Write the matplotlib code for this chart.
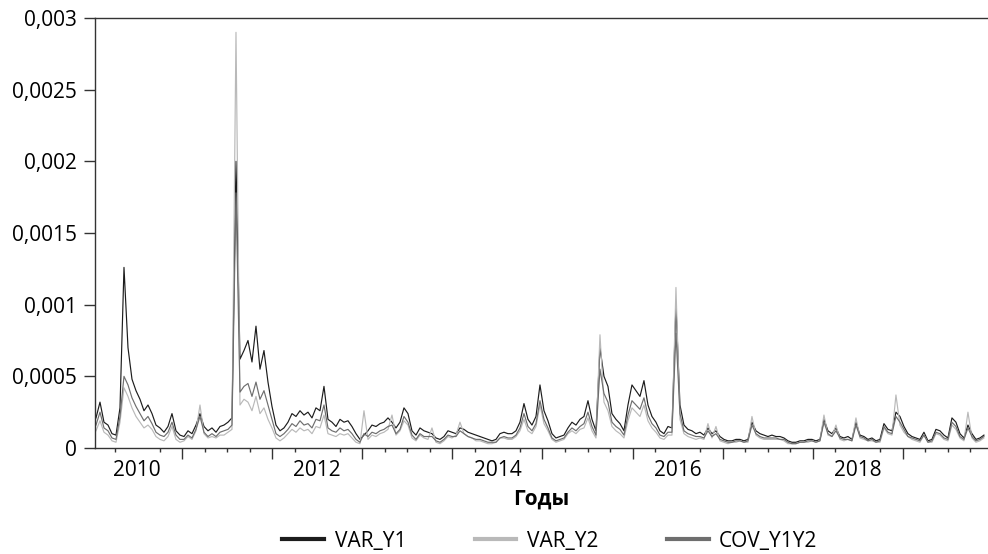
import numpy as np
import matplotlib
matplotlib.use("Agg")
import matplotlib.pyplot as plt
from matplotlib.ticker import FixedLocator, FuncFormatter

plt.rcParams['font.family'] = ['Open Sans', 'DejaVu Sans']

# Observation span (fractional years) of the daily series, sampled evenly
first_obs = 2010.044
last_obs = 2019.90

# Values in units of 1e-4
var_y1 = [
    2.1, 3.2, 1.8, 1.6, 1.0, 0.9, 2.8, 12.6, 7.0, 4.8,
    4.0, 3.4, 2.6, 3.0, 2.4, 1.6, 1.4, 1.1, 1.5, 2.4,
    1.2, 0.9, 0.8, 1.2, 1.0, 1.6, 2.4, 1.5, 1.2, 1.4,
    1.1, 1.5, 1.6, 1.8, 2.1, 20.0, 6.2, 6.8, 7.5, 6.0,
    8.5, 5.5, 6.8, 4.6, 2.9, 1.6, 1.2, 1.4, 1.8, 2.4,
    2.2, 2.6, 2.3, 2.5, 2.1, 2.8, 2.6, 4.3, 2.0, 1.8,
    1.5, 2.0, 1.8, 1.9, 1.5, 1.0, 0.6, 0.9, 1.2, 1.6,
    1.5, 1.7, 1.8, 2.1, 1.8, 1.4, 1.8, 2.8, 2.4, 1.2,
    0.9, 1.4, 1.2, 1.1, 1.0, 0.7, 0.6, 0.8, 1.2, 1.1,
    1.0, 1.4, 1.3, 1.1, 1.0, 0.9, 0.8, 0.7, 0.6, 0.5,
    0.6, 1.0, 1.1, 1.0, 1.0, 1.2, 1.8, 3.1, 2.0, 1.6,
    2.2, 4.4, 2.6, 1.9, 1.0, 0.7, 0.8, 0.9, 1.4, 1.8,
    1.6, 2.0, 2.2, 3.3, 2.0, 1.2, 7.0, 5.0, 4.3, 2.4,
    2.0, 1.7, 1.2, 3.0, 4.4, 4.0, 3.6, 4.7, 3.0, 2.2,
    1.8, 1.2, 1.0, 1.5, 1.4, 10.0, 3.0, 1.6, 1.3, 1.2,
    1.0, 1.1, 0.9, 1.4, 1.0, 1.2, 0.8, 0.6, 0.5, 0.5,
    0.6, 0.6, 0.5, 0.6, 1.8, 1.2, 1.0, 0.9, 0.8, 0.9,
    0.8, 0.8, 0.7, 0.5, 0.4, 0.4, 0.5, 0.5, 0.6, 0.6,
    0.5, 0.6, 2.0, 1.2, 1.0, 1.4, 0.8, 0.7, 0.8, 0.6,
    1.8, 0.9, 0.8, 0.6, 0.7, 0.5, 0.6, 1.7, 1.3, 1.2,
    2.5, 2.2, 1.5, 1.0, 0.8, 0.7, 0.6, 1.1, 0.5, 0.6,
    1.3, 1.2, 0.9, 0.7, 2.1, 1.8, 1.0, 0.7, 1.6, 1.0,
    0.6, 0.7, 0.9,
]

var_y2 = [
    1.2, 1.9, 1.1, 0.9, 0.5, 0.4, 1.8, 4.2, 3.6, 2.8,
    2.2, 1.8, 1.4, 1.6, 1.3, 0.8, 0.6, 0.5, 0.8, 1.5,
    0.6, 0.4, 0.5, 0.8, 0.6, 1.2, 3.0, 1.0, 0.7, 0.8,
    0.7, 0.9, 0.9, 1.1, 1.3, 29.0, 3.0, 3.4, 3.2, 2.6,
    3.6, 2.4, 2.8, 2.0, 1.4, 0.7, 0.5, 0.7, 1.0, 1.3,
    1.1, 1.4, 1.2, 1.3, 1.0, 1.5, 1.4, 2.3, 1.0, 0.9,
    0.8, 1.0, 0.9, 1.0, 0.7, 0.4, 0.3, 2.6, 0.6, 0.9,
    0.8, 1.0, 1.1, 1.3, 2.3, 0.9, 1.2, 1.9, 1.6, 0.7,
    0.5, 0.9, 0.7, 0.6, 1.4, 0.4, 0.3, 0.5, 0.8, 0.7,
    0.9, 1.8, 1.0, 0.8, 0.7, 0.5, 0.5, 0.4, 0.3, 0.3,
    0.4, 0.7, 0.7, 0.6, 0.6, 0.8, 1.2, 2.0, 1.2, 1.0,
    1.5, 3.0, 1.7, 1.2, 0.6, 0.4, 0.5, 0.6, 1.0, 1.2,
    1.0, 1.3, 1.4, 2.1, 1.2, 0.7, 7.9, 3.2, 2.6, 1.5,
    1.2, 1.0, 0.7, 1.9, 2.8, 2.5, 2.2, 3.0, 1.9, 1.4,
    1.1, 0.7, 0.6, 0.9, 0.9, 11.2, 2.0, 1.0, 0.8, 0.7,
    0.6, 0.7, 0.6, 1.7, 0.7, 1.5, 0.5, 0.4, 0.3, 0.4,
    0.4, 0.5, 0.4, 0.4, 2.2, 0.9, 0.7, 0.6, 0.6, 0.6,
    0.6, 0.6, 0.5, 0.3, 0.3, 0.3, 0.4, 0.4, 0.4, 0.5,
    0.4, 0.5, 2.3, 0.9, 0.8, 1.6, 0.6, 0.5, 0.6, 0.5,
    2.1, 0.7, 0.6, 0.5, 0.5, 0.4, 0.4, 1.4, 1.0, 0.9,
    3.7, 1.6, 1.1, 0.8, 0.6, 0.5, 0.4, 0.9, 0.4, 0.4,
    1.0, 0.9, 0.6, 0.5, 1.6, 1.3, 0.7, 0.5, 2.5, 0.7,
    0.4, 0.5, 0.7,
]

cov_y1y2 = [
    1.6, 2.5, 1.4, 1.2, 0.7, 0.6, 2.2, 5.0, 4.4, 3.5,
    2.9, 2.4, 1.9, 2.2, 1.7, 1.1, 0.9, 0.8, 1.1, 1.8,
    0.9, 0.6, 0.6, 0.9, 0.7, 1.3, 2.2, 1.1, 0.8, 1.0,
    0.8, 1.1, 1.2, 1.3, 1.6, 17.8, 3.9, 4.3, 4.5, 3.6,
    4.6, 3.4, 4.0, 3.0, 2.0, 1.0, 0.8, 1.0, 1.3, 1.7,
    1.5, 1.9, 1.6, 1.7, 1.4, 2.0, 1.9, 3.0, 1.4, 1.2,
    1.1, 1.4, 1.2, 1.3, 1.0, 0.6, 0.4, 1.0, 0.8, 1.1,
    1.0, 1.2, 1.3, 1.5, 1.6, 1.0, 1.3, 2.2, 1.8, 0.9,
    0.6, 1.0, 0.8, 0.8, 0.8, 0.5, 0.4, 0.6, 0.9, 0.8,
    0.8, 1.2, 1.0, 0.8, 0.7, 0.6, 0.6, 0.5, 0.4, 0.4,
    0.4, 0.7, 0.8, 0.7, 0.7, 0.9, 1.4, 2.4, 1.5, 1.2,
    1.7, 3.3, 2.0, 1.4, 0.7, 0.5, 0.6, 0.7, 1.1, 1.4,
    1.2, 1.5, 1.7, 2.5, 1.5, 0.9, 5.5, 3.8, 3.2, 1.8,
    1.5, 1.3, 0.9, 2.3, 3.3, 3.0, 2.7, 3.5, 2.3, 1.7,
    1.4, 0.9, 0.8, 1.1, 1.1, 8.0, 2.4, 1.2, 1.0, 0.9,
    0.8, 0.8, 0.7, 1.2, 0.8, 1.0, 0.6, 0.5, 0.4, 0.4,
    0.5, 0.5, 0.4, 0.5, 1.6, 1.0, 0.8, 0.7, 0.7, 0.7,
    0.7, 0.6, 0.6, 0.4, 0.3, 0.3, 0.4, 0.4, 0.5, 0.5,
    0.4, 0.5, 1.8, 1.0, 0.8, 1.2, 0.7, 0.6, 0.6, 0.5,
    1.6, 0.8, 0.7, 0.5, 0.6, 0.4, 0.5, 1.5, 1.1, 1.0,
    2.2, 1.8, 1.3, 0.8, 0.7, 0.6, 0.5, 0.9, 0.4, 0.5,
    1.1, 1.0, 0.7, 0.6, 1.8, 1.5, 0.8, 0.6, 1.4, 0.8,
    0.5, 0.6, 0.8,
]

series_names = ["VAR_Y1", "VAR_Y2", "COV_Y1Y2"]
series_colors = ["#1c1c1c", "#b9b9b9", "#6e6e6e"]
year_labels = ["2010", "2012", "2014", "2016", "2018"]
y_ticks = [0, 0.0005, 0.001, 0.0015, 0.002, 0.0025, 0.003]
x_title = "Годы"

scale = 1e-4
n = len(var_y1)
x = np.linspace(first_obs, last_obs, n)

W, H = 988, 554
fig = plt.figure(figsize=(W / 100, H / 100), dpi=100)
ax = fig.add_axes([95 / W, 1 - 448 / H, 893 / W, 430 / H])

for vals, name, col in zip([var_y1, var_y2, cov_y1y2], series_names, series_colors):
    ax.plot(x, np.array(vals) * scale, color=col, lw=0.85, label=name)

ax.set_xlim(2010.033, 2019.945)
ax.set_ylim(0, 0.003)

# y axis
ax.yaxis.set_major_locator(FixedLocator(y_ticks))
ax.yaxis.set_major_formatter(FuncFormatter(lambda v, p: ("%g" % v).replace(".", ",")))
ax.tick_params(axis="y", direction="out", length=8, width=1, color="#333333",
               labelsize=15, pad=5, labelcolor="black")

# x axis: labels centred on even years, no tick mark for them
label_pos = [int(s) + 0.5 for s in year_labels]
ax.xaxis.set_major_locator(FixedLocator(label_pos))
ax.set_xticklabels(year_labels)
ax.tick_params(axis="x", which="major", length=0, labelsize=15, pad=9)
quarters = np.arange(2010.25, 2020.0, 0.25)
quarters = [q for q in quarters if abs(q - round(q)) > 1e-6]
ax.xaxis.set_minor_locator(FixedLocator(quarters))
ax.tick_params(axis="x", which="minor", direction="out", length=3, width=1, color="#333333")

# year boundary ticks (longer)
sec = ax.secondary_xaxis("bottom")
sec.set_xticks(np.arange(2011, 2020, 1))
sec.tick_params(length=8, width=1, color="#333333", labelbottom=False)
sec.spines["bottom"].set_visible(False)

for s in ["left", "top", "bottom"]:
    ax.spines[s].set_color("#333333")
    ax.spines[s].set_linewidth(1)
ax.spines["right"].set_visible(False)

ax.set_xlabel(x_title, fontsize=15, fontweight="bold", labelpad=5)

fig.legend(loc="center", bbox_to_anchor=(550 / W, 1 - 541 / H), ncol=3, frameon=False,
           fontsize=15, handlelength=2.0, handletextpad=0.5, columnspacing=3.3)
for line in fig.legends[0].get_lines():
    line.set_linewidth(3)

fig.savefig("out.png", dpi=100)
